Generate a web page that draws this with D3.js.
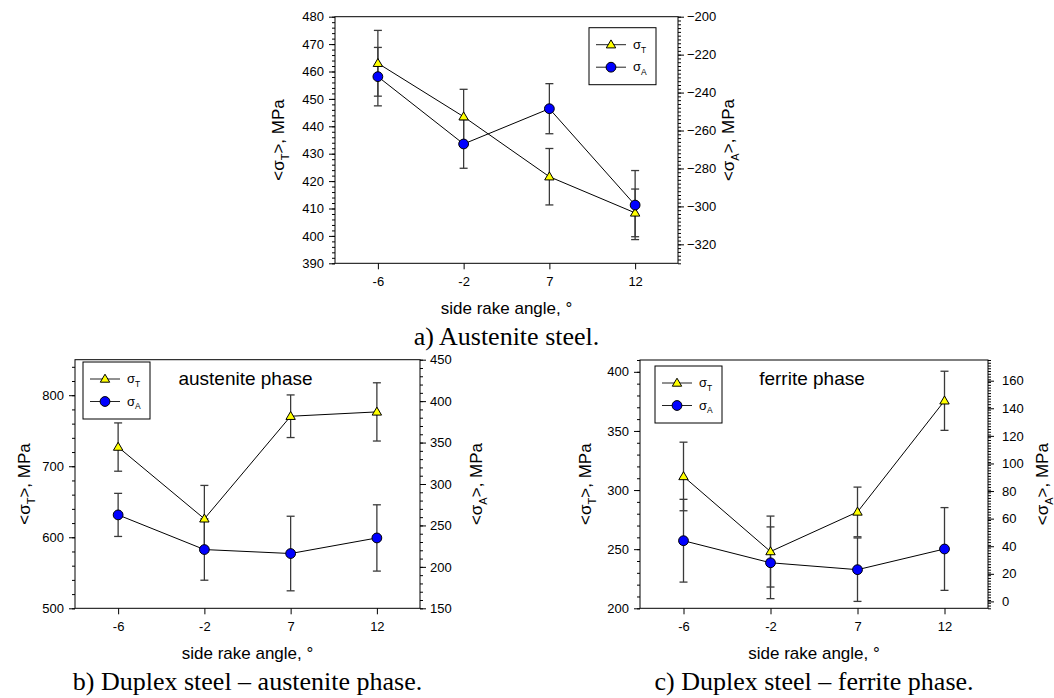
<!DOCTYPE html>
<html>
<head>
<meta charset="utf-8">
<script src="https://cdn.jsdelivr.net/npm/d3@7"></script>
<style>
  body { margin: 0; background: #fff; }
  svg { display: block; }
</style>
</head>
<body>
<svg id="chart"></svg>
<script>
// categories on the x axis (side rake angle, degrees)
const angles = ["-6", "-2", "7", "12"];

// a) Austenite steel
const aTensile = [463, 443.5, 421.6, 408.4];
const aTensileErr = [12, 10, 10.3, 8.7];
const aAxial = [-231.6, -267.1, -248.5, -299.3];
const aAxialErr = [15.4, 12.8, 13.2, 18.2];
const aLeftTicks = [390, 400, 410, 420, 430, 440, 450, 460, 470, 480];
const aRightTicks = [-320, -300, -280, -260, -240, -220, -200];

// b) Duplex steel - austenite phase
const bTensile = [727, 626, 770.4, 776.5];
const bTensileErr = [34, 47, 30, 41];
const bAxial = [262.7, 220.9, 216.1, 234.9];
const bAxialErr = [26, 37, 45, 40];
const bLeftTicks = [500, 600, 700, 800];
const bRightTicks = [150, 200, 250, 300, 350, 400, 450];

// c) Duplex steel - ferrite phase
const cTensile = [311.5, 248, 281.5, 375.5];
const cTensileErr = [29, 30, 21, 25];
const cAxial = [44, 28, 23, 38];
const cAxialErr = [30, 26, 23, 30];
const cLeftTicks = [200, 250, 300, 350, 400];
const cRightTicks = [0, 20, 40, 60, 80, 100, 120, 140, 160];

const FONT = "Liberation Sans, Arial, sans-serif";
const SERIF = "Liberation Serif, Times New Roman, serif";

const svg = d3.select("#chart")
    .attr("width", 1054)
    .attr("height", 698);

svg.append("rect").attr("width", 1054).attr("height", 698).attr("fill", "#fff");

// sigma with a subscript letter, e.g. "<σT>, MPa"
function sigmaText(sel, pre, sub, post, size) {
    sel.append("tspan").text(pre + "σ");
    sel.append("tspan").attr("dy", size * 0.3).attr("font-size", size * 0.65).text(sub);
    sel.append("tspan").attr("dy", -size * 0.3).text(post);
}

const triPath = "M0,-4.8L4.7,3.2L-4.7,3.2Z";

function drawPanel(cfg) {
    const g = svg.append("g");

    const x = d3.scalePoint().domain(angles).range([cfg.x0, cfg.x1]).padding(0.5);
    const yL = d3.scaleLinear().domain(cfg.leftDomain).range([cfg.y1, cfg.y0]);
    const yR = d3.scaleLinear().domain(cfg.rightDomain).range([cfg.y1, cfg.y0]);

    // minor ticks
    g.append("g")
        .attr("transform", `translate(${cfg.x0},0)`)
        .call(d3.axisLeft(yL).tickValues(d3.range(cfg.leftDomain[0], cfg.leftDomain[1] + 1e-6, cfg.leftMinor)).tickSize(3).tickFormat(""))
        .call(s => s.select(".domain").remove());
    g.append("g")
        .attr("transform", `translate(${cfg.x1},0)`)
        .call(d3.axisRight(yR).tickValues(d3.range(cfg.rightDomain[0], cfg.rightDomain[1] + 1e-6, cfg.rightMinor)).tickSize(3).tickFormat(""))
        .call(s => s.select(".domain").remove());

    // major ticks + labels
    g.append("g")
        .attr("transform", `translate(${cfg.x0},0)`)
        .call(d3.axisLeft(yL).tickValues(cfg.leftTicks).tickSize(6).tickPadding(5))
        .attr("font-size", 13).attr("font-family", FONT)
        .call(s => s.select(".domain").remove());
    g.append("g")
        .attr("transform", `translate(${cfg.x1},0)`)
        .call(d3.axisRight(yR).tickValues(cfg.rightTicks).tickSize(6).tickPadding(cfg.rightPad))
        .attr("font-size", 13).attr("font-family", FONT)
        .call(s => s.select(".domain").remove());
    g.append("g")
        .attr("transform", `translate(0,${cfg.y1})`)
        .call(d3.axisBottom(x).tickSize(6).tickPadding(7))
        .attr("font-size", 13).attr("font-family", FONT)
        .call(s => s.select(".domain").remove());

    g.selectAll(".tick line").attr("stroke", "#000");

    // frame
    g.append("rect")
        .attr("x", cfg.x0).attr("y", cfg.y0)
        .attr("width", cfg.x1 - cfg.x0).attr("height", cfg.y1 - cfg.y0)
        .attr("fill", "none").attr("stroke", "#000").attr("stroke-width", 1);

    // axis titles
    g.append("text")
        .attr("x", (cfg.x0 + cfg.x1) / 2).attr("y", cfg.y1 + 51)
        .attr("text-anchor", "middle").attr("font-size", 17).attr("font-family", FONT)
        .text("side rake angle, °");

    const ttl = g.append("text")
        .attr("transform", `translate(${cfg.x0 - cfg.leftTitle},${(cfg.y0 + cfg.y1) / 2}) rotate(-90)`)
        .attr("text-anchor", "middle").attr("font-size", 17).attr("font-family", FONT)
        .attr("dy", "0.35em");
    sigmaText(ttl, "<", "T", ">, MPa", 17);

    const ttr = g.append("text")
        .attr("transform", `translate(${cfg.x1 + cfg.rightTitle},${(cfg.y0 + cfg.y1) / 2}) rotate(-90)`)
        .attr("text-anchor", "middle").attr("font-size", 17).attr("font-family", FONT)
        .attr("dy", "0.35em");
    sigmaText(ttr, "<", "A", ">, MPa", 17);

    // caption
    g.append("text")
        .attr("x", (cfg.x0 + cfg.x1) / 2).attr("y", cfg.y1 + 82)
        .attr("text-anchor", "middle").attr("font-size", 26).attr("font-family", SERIF)
        .text(cfg.caption);

    if (cfg.note) {
        g.append("text")
            .attr("x", (cfg.x0 + cfg.x1) / 2 - 2).attr("y", cfg.y0 + 25)
            .attr("text-anchor", "middle").attr("font-size", 19).attr("font-family", FONT)
            .text(cfg.note);
    }

    // error bars
    function errorBars(vals, errs, y) {
        const eb = g.append("g").attr("stroke", "#3a3a3a").attr("stroke-width", 1.3);
        vals.forEach((v, i) => {
            const cx = x(angles[i]);
            eb.append("line").attr("x1", cx).attr("x2", cx).attr("y1", y(v - errs[i])).attr("y2", y(v + errs[i]));
            [v - errs[i], v + errs[i]].forEach(e => {
                eb.append("line").attr("x1", cx - 4).attr("x2", cx + 4).attr("y1", y(e)).attr("y2", y(e));
            });
        });
    }
    errorBars(cfg.tensile, cfg.tensileErr, yL);
    errorBars(cfg.axial, cfg.axialErr, yR);

    const line = (y) => d3.line().x((d, i) => x(angles[i])).y(d => y(d));
    g.append("path").datum(cfg.tensile).attr("d", line(yL))
        .attr("fill", "none").attr("stroke", "#000").attr("stroke-width", 1);
    g.append("path").datum(cfg.axial).attr("d", line(yR))
        .attr("fill", "none").attr("stroke", "#000").attr("stroke-width", 1);

    g.selectAll(null).data(cfg.tensile).enter().append("path")
        .attr("d", triPath)
        .attr("transform", (d, i) => `translate(${x(angles[i])},${yL(d)})`)
        .attr("fill", "#ffff00").attr("stroke", "#000").attr("stroke-width", 1);
    g.selectAll(null).data(cfg.axial).enter().append("circle")
        .attr("cx", (d, i) => x(angles[i])).attr("cy", d => yR(d)).attr("r", 4.9)
        .attr("fill", "#0000ff").attr("stroke", "#000").attr("stroke-width", 1);

    // legend
    const lg = g.append("g").attr("transform", `translate(${cfg.legend[0]},${cfg.legend[1]})`);
    lg.append("rect").attr("width", 67).attr("height", 57)
        .attr("fill", "#fff").attr("stroke", "#000").attr("stroke-width", 1);
    [17, 39.5].forEach((ry, k) => {
        lg.append("line").attr("x1", 7).attr("x2", 37).attr("y1", ry).attr("y2", ry)
            .attr("stroke", "#222").attr("stroke-width", 1);
        if (k === 0) {
            lg.append("path").attr("d", triPath).attr("transform", `translate(22,${ry})`)
                .attr("fill", "#ffff00").attr("stroke", "#000");
        } else {
            lg.append("circle").attr("cx", 22).attr("cy", ry).attr("r", 4.9)
                .attr("fill", "#0000ff").attr("stroke", "#000");
        }
        const t = lg.append("text").attr("x", 44).attr("y", ry + 4)
            .attr("font-size", 13).attr("font-family", FONT);
        sigmaText(t, "", k === 0 ? "T" : "A", "", 13);
    });
}

drawPanel({
    x0: 335, x1: 678, y0: 16.7, y1: 263.3,
    leftDomain: [390, 480], rightDomain: [-330, -200],
    leftTicks: aLeftTicks, rightTicks: aRightTicks,
    leftMinor: 2, rightMinor: 2, rightPad: 3,
    leftTitle: 57, rightTitle: 50,
    tensile: aTensile, tensileErr: aTensileErr,
    axial: aAxial, axialErr: aAxialErr,
    legend: [589, 27.7],
    caption: "a) Austenite steel."
});

drawPanel({
    x0: 75, x1: 420, y0: 359.7, y1: 608.3,
    leftDomain: [500, 850], rightDomain: [150, 450],
    leftTicks: bLeftTicks, rightTicks: bRightTicks,
    leftMinor: 20, rightMinor: 10, rightPad: 4,
    leftTitle: 51, rightTitle: 56,
    tensile: bTensile, tensileErr: bTensileErr,
    axial: bAxial, axialErr: bAxialErr,
    legend: [83, 362],
    caption: "b) Duplex steel – austenite phase.",
    note: "austenite phase"
});

drawPanel({
    x0: 640, x1: 988, y0: 360, y1: 608.3,
    leftDomain: [200, 410], rightDomain: [-5, 175],
    leftTicks: cLeftTicks, rightTicks: cRightTicks,
    leftMinor: 10, rightMinor: 2, rightPad: 8,
    leftTitle: 55, rightTitle: 54,
    tensile: cTensile, tensileErr: cTensileErr,
    axial: cAxial, axialErr: cAxialErr,
    legend: [655, 366],
    caption: "c) Duplex steel – ferrite phase.",
    note: "ferrite phase"
});
</script>
</body>
</html>
